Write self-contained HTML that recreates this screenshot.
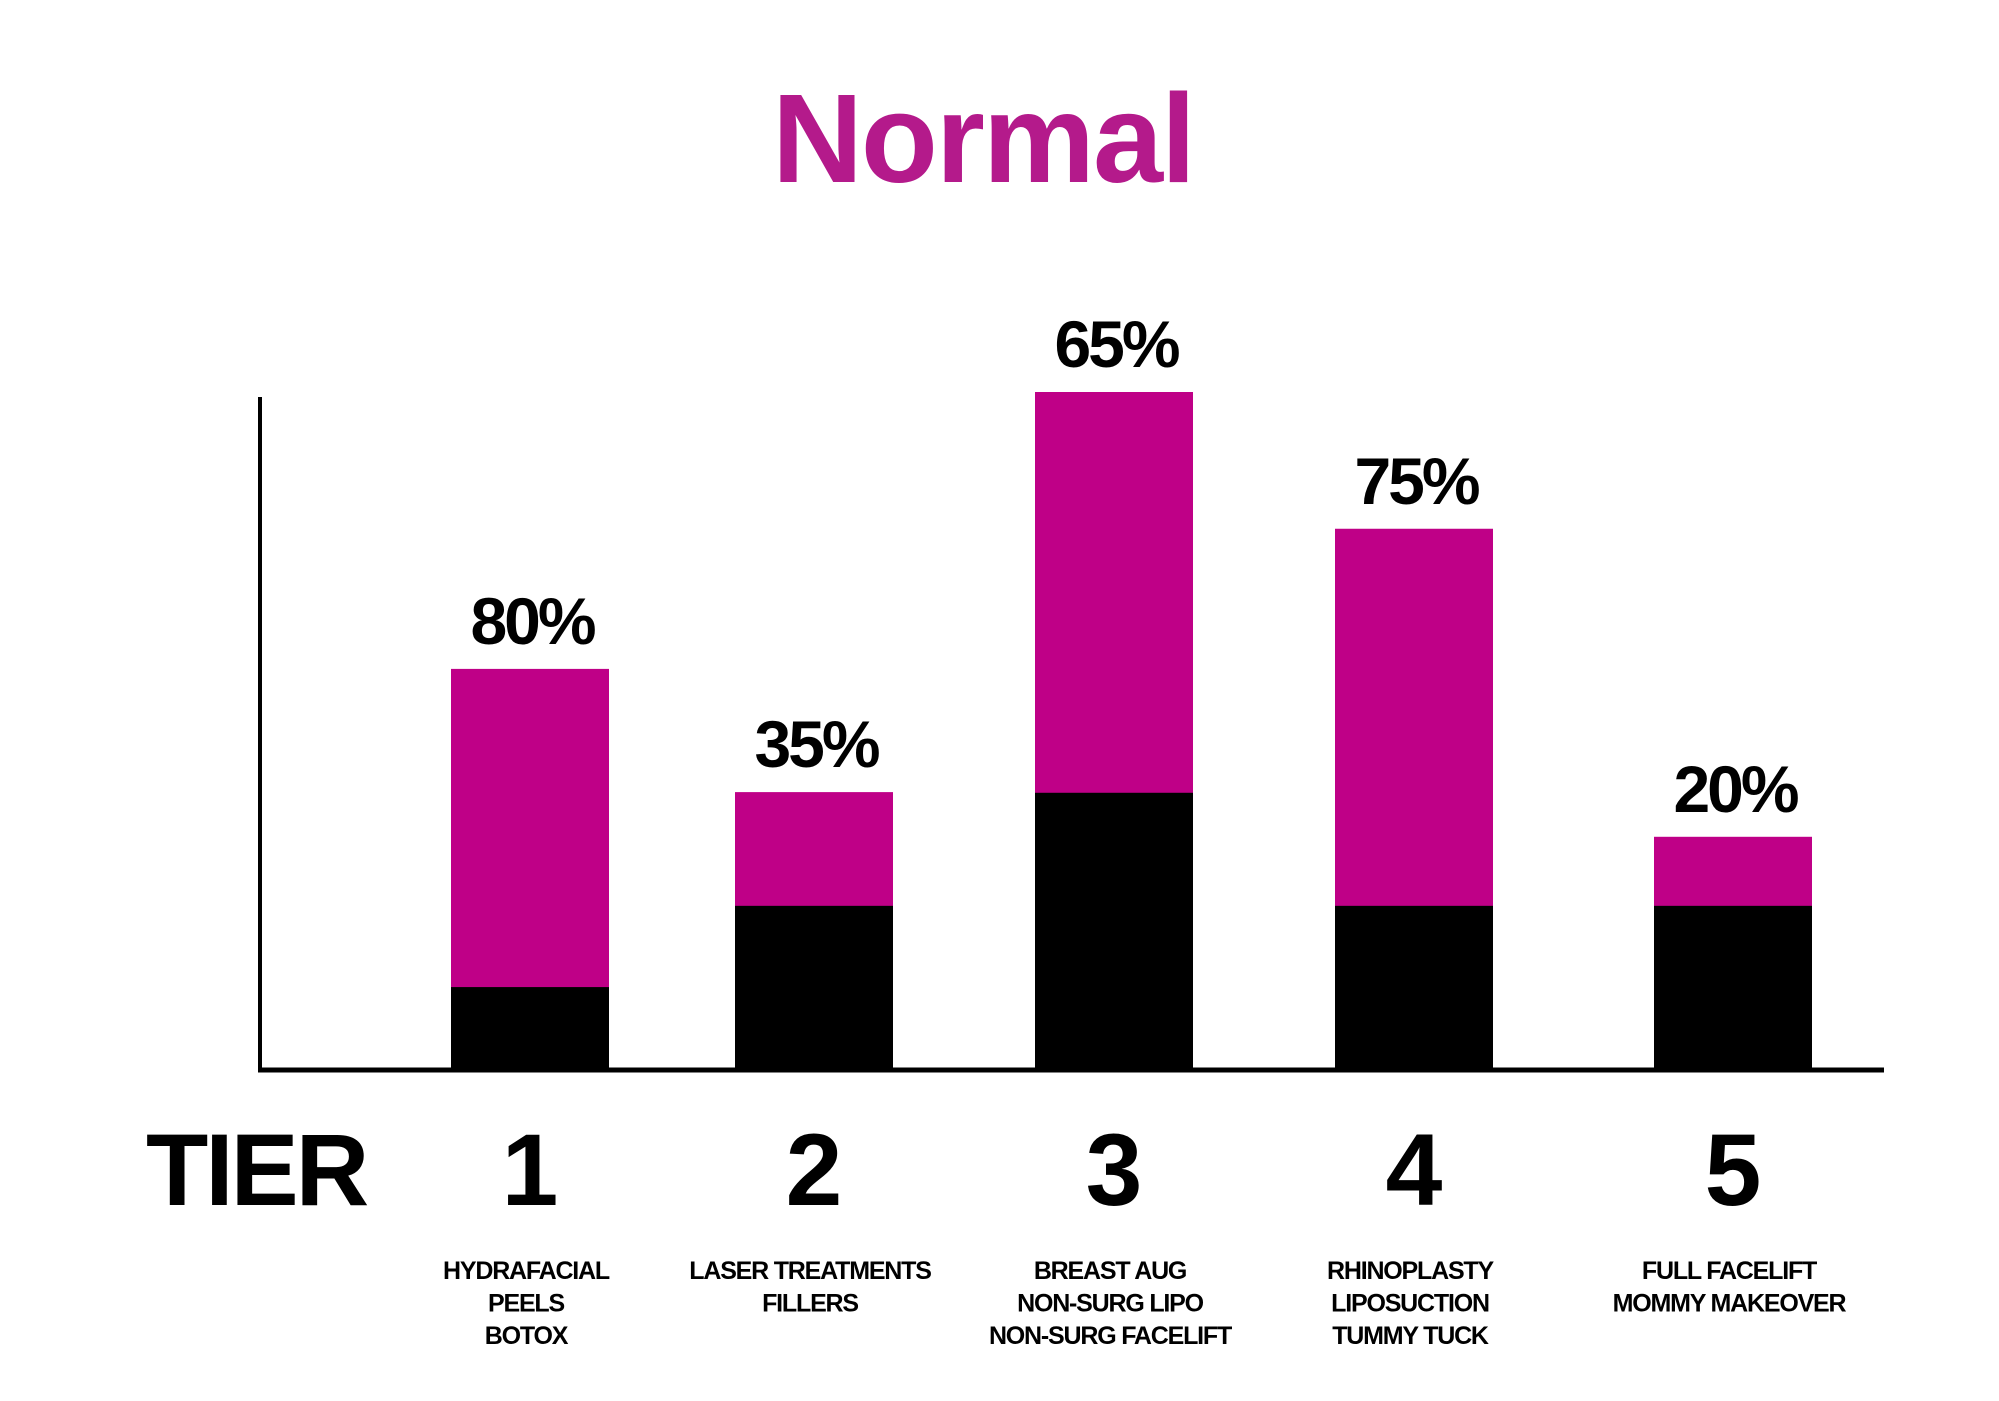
<!DOCTYPE html>
<html><head><meta charset="utf-8"><style>
html,body{margin:0;padding:0;background:#fff}
svg{display:block}
text{font-family:"Liberation Sans",sans-serif;font-weight:bold}
</style></head><body>
<svg id="chart" width="1999" height="1401" viewBox="0 0 1999 1401" xmlns="http://www.w3.org/2000/svg">
<text x="983" y="182" text-anchor="middle" font-size="126" fill="#b41a8b" letter-spacing="-2">Normal</text>
<g id="bars"></g>
<line x1="260" y1="397" x2="260" y2="1071" stroke="#000" stroke-width="4"/>
<line x1="258" y1="1070" x2="1884" y2="1070" stroke="#000" stroke-width="5"/>
<text x="146" y="1205" font-size="102" fill="#000" letter-spacing="-3">TIER</text>
<g id="labels"></g>
</svg>
<script>
const categories = ["1","2","3","4","5"];
const totalValues = [59.1, 40.9, 100, 79.8, 34.3];
const baseValues = [12.1, 24.1, 40.8, 24.1, 24.1];
const pctLabels = ["80%","35%","65%","75%","20%"];
const treatments = [["HYDRAFACIAL","PEELS","BOTOX"],["LASER TREATMENTS","FILLERS"],["BREAST AUG","NON-SURG LIPO","NON-SURG FACELIFT"],["RHINOPLASTY","LIPOSUCTION","TUMMY TUCK"],["FULL FACELIFT","MOMMY MAKEOVER"]];

const NS = "http://www.w3.org/2000/svg";
const y0 = 1069, yTop = 392, yMax = 100;
const centers = [530, 814, 1114, 1414, 1733];
const barW = 158;
function yScale(v){ return y0 - (v / yMax) * (y0 - yTop); }
function xScale(i){ return centers[i]; }
const bars = document.getElementById('bars');
const labels = document.getElementById('labels');
function mk(tag, attrs){ const e = document.createElementNS(NS, tag); for (const k in attrs) e.setAttribute(k, attrs[k]); return e; }

categories.forEach((c, i) => {
  const cx = xScale(i);
  const top = mk('rect', {x: cx - barW/2, y: yScale(totalValues[i]), width: barW, height: y0 - yScale(totalValues[i]), fill: '#bf0087'});
  
  
  bars.appendChild(top);
  const base = mk('rect', {x: cx - barW/2, y: yScale(baseValues[i]), width: barW, height: y0 - yScale(baseValues[i]), fill: '#000'});
  
  
  bars.appendChild(base);
  const pl = mk('text', {x: cx + 2, y: yScale(totalValues[i]) - 25, 'text-anchor': 'middle', 'font-size': 66, fill: '#000', 'letter-spacing': '-3'});
  pl.textContent = pctLabels[i];
  
  
  labels.appendChild(pl);
  const num = mk('text', {x: cx, y: 1205, 'text-anchor': 'middle', 'font-size': 102, fill: '#000'});
  num.textContent = c;
  
  
  labels.appendChild(num);
  treatments[i].forEach((t, j) => {
    const tl = mk('text', {x: cx - 4, y: 1279 + j * 32.5, 'text-anchor': 'middle', 'font-size': 25, fill: '#000', 'letter-spacing': '-1.2'});
    tl.textContent = t;
    
    
    labels.appendChild(tl);
  });
});
</script>
</body></html>
